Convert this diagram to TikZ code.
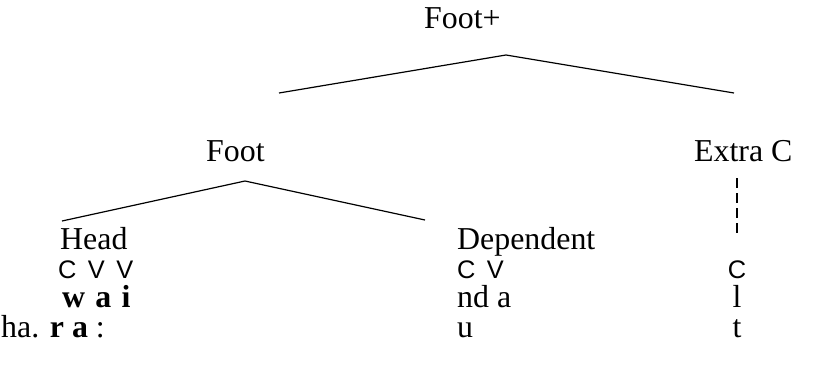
\documentclass[tikz,border=0pt]{standalone}
\usepackage{fontspec}
\setmainfont{Liberation Serif}
\newfontfamily\cvfont{Liberation Sans}
\begin{document}
\begin{tikzpicture}[x=1bp,y=-1bp,
  lbl/.style={inner sep=0pt, anchor=base west, font=\fontsize{32}{36}\selectfont},
  cvlbl/.style={inner sep=0pt, anchor=base west, font=\cvfont\fontsize{25.5}{30}\selectfont},
  branch/.style={line width=1.2bp},
  link/.style={line width=1.2bp, dash pattern=on 10bp off 5bp}]
\useasboundingbox (0,0) rectangle (817,368);

% category labels
\node[lbl] (footplus) at (424,28) {Foot+};
\node[lbl] (foot) at (206,161) {Foot};
\node[lbl] (extra) at (694,161) {Extra C};
\node[lbl] (head) at (60,249) {Head};
\node[lbl] (dep) at (457,249) {Dependent};

% skeleton rows
\node[cvlbl] (cvv) at (58,278) {C\hspace{0.45em}V\hspace{0.45em}V};
\node[cvlbl] (cv) at (457,278) {C\hspace{0.45em}V};
\node[cvlbl, anchor=base] (c) at (737,278) {C};

% segment rows
\node[lbl] (wai) at (62,307) {\textbf{w\hspace{0.32em}a\hspace{0.32em}i}};
\node[lbl] (nda) at (457,307) {nd a};
\node[lbl, anchor=base] (l) at (737,307) {l};
\node[lbl] (hara) at (1,337) {ha. \textbf{r a} :};
\node[lbl] (u) at (457,337) {u};
\node[lbl, anchor=base] (t) at (737,337) {t};

% branches
\coordinate (fpTop) at (506,55);
\coordinate (fpL) at (279,93);
\coordinate (fpR) at (734,93);
\draw[branch] (fpL) -- (fpTop) -- (fpR);

\coordinate (fTop) at (245,181);
\coordinate (fL) at (62,221);
\coordinate (fR) at (425,220);
\draw[branch] (fL) -- (fTop) -- (fR);

\coordinate (dTop) at (737,178);
\coordinate (dBot) at (737,233);
\draw[link] (dTop) -- (dBot);
\end{tikzpicture}
\end{document}
